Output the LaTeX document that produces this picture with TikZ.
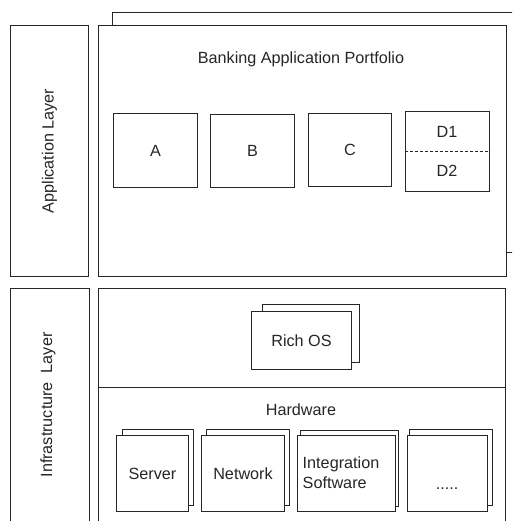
\documentclass[tikz,border=0pt]{standalone}
\usepackage{fontspec}
\setmainfont{Liberation Sans}
\begin{document}
\begin{tikzpicture}[x=1pt,y=-1pt,line width=1pt,
  every node/.style={font=\fontsize{16.2}{20}\selectfont, text=black!85},
  box/.style={draw=black!85, fill=white, inner sep=0pt, anchor=north west},
  lbl/.style={inner sep=0pt}]
\useasboundingbox (0,0) rectangle (512,521);
\clip (0,0) rectangle (512,521);
% application layer
\node[box, minimum width=430, minimum height=240] (appback) at (112,12) {};
\node[box, minimum width=408, minimum height=251] (portfolio) at (98,25) {};
\node[box, minimum width=78, minimum height=251] (applayer) at (10,25) {};
\node[lbl, rotate=90] (applabel) at (applayer.center) {Application Layer};
\node[lbl] (title) at (301,59) {Banking Application Portfolio};
\node[box, minimum width=84, minimum height=74] (A) at (113,113) {};
\node[lbl] at (A.center) {A};
\node[box, minimum width=84, minimum height=73] (B) at (210,114) {};
\node[lbl] at (B.center) {B};
\node[box, minimum width=83, minimum height=73] (C) at (308,113) {};
\node[lbl] at (C.center) {C};
\node[box, minimum width=84, minimum height=80] (D) at (405,111) {};
\draw[black!85, dash pattern=on 3pt off 2pt] (D.west) -- (D.east);
\node[lbl] (D1) at (447,132) {D1};
\node[lbl] (D2) at (447,171) {D2};
% infrastructure layer
\node[box, minimum width=79, minimum height=250] (infralayer) at (10,288) {};
\node[lbl, rotate=90] (infralabel) at (48,405) {Infrastructure\ \ Layer};
\node[box, minimum width=407, minimum height=99] (os) at (98,288) {};
\node[box, minimum width=407, minimum height=150] (hw) at (98,387) {};
\node[box, minimum width=97, minimum height=58] (richback) at (262,304) {};
\node[box, minimum width=100, minimum height=58] (rich) at (251,311) {};
\node[lbl] at (rich.center) {Rich OS};
\node[lbl] (hwlabel) at (301,410) {Hardware};
\node[box, minimum width=71, minimum height=76] (serverback) at (122,429) {};
\node[box, minimum width=72, minimum height=76] (server) at (116,435) {};
\node[lbl] at (server.center) {Server};
\node[box, minimum width=83, minimum height=76] (networkback) at (206,429) {};
\node[box, minimum width=83, minimum height=76] (network) at (201,435) {};
\node[lbl] at (network.center) {Network};
\node[box, minimum width=98, minimum height=76] (integback) at (300,430) {};
\node[box, minimum width=98, minimum height=76] (integ) at (297,435) {};
\node[lbl, align=left] at (341,473) {Integration\\Software};
\node[box, minimum width=83, minimum height=76] (dotsback) at (409,429) {};
\node[box, minimum width=80, minimum height=76] (dots) at (407,435) {};
\node[lbl, anchor=base] at (447,489) {.....};
\end{tikzpicture}
\end{document}
